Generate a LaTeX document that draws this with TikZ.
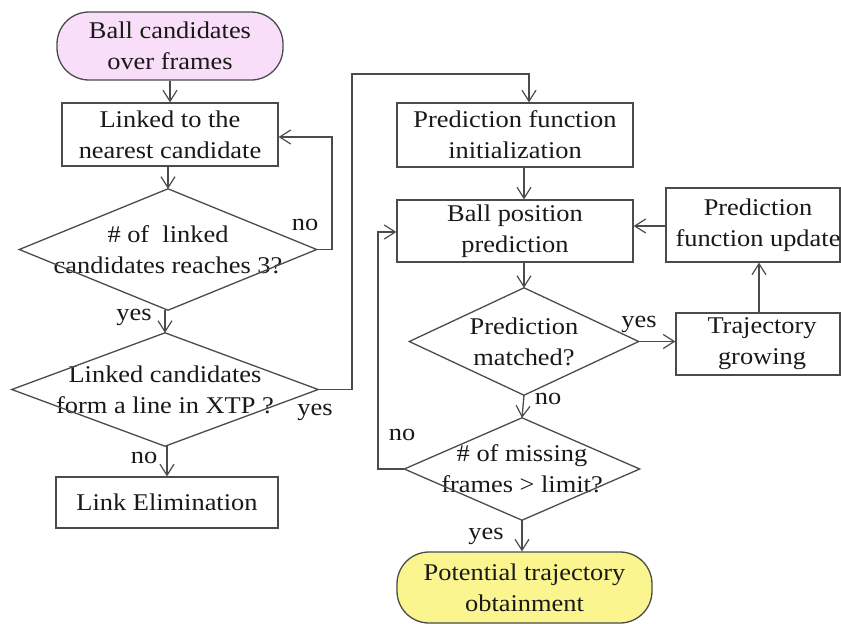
\documentclass[tikz,border=0pt]{standalone}
\usepackage{fontspec}
\setmainfont{Liberation Serif}[FakeStretch=1.1]
\usetikzlibrary{arrows.meta}
\definecolor{startpink}{RGB}{248,222,248}
\definecolor{endyellow}{RGB}{250,245,142}
\definecolor{linecol}{RGB}{75,75,75}
\definecolor{txtcol}{RGB}{25,25,25}
\tikzset{
  every node/.style={font=\fontsize{24}{31}\selectfont, text=txtcol},
  box/.style={draw=linecol, line width=1.3pt, rectangle, inner sep=0pt, align=center},
  term/.style={box, rounded corners=32pt},
  dtext/.style={rectangle, inner sep=0pt, align=center},
  dia/.style={draw=linecol, line width=1.3pt},
  conn/.style={draw=linecol, line width=1.3pt, -{Straight Barb[length=11pt,width=14pt,line width=1.2pt]}},
  lbl/.style={anchor=base, inner sep=0pt}
}
\begin{document}
\begin{tikzpicture}[x=1pt,y=-1pt]
\useasboundingbox (0,0) rectangle (841,624);
\fill[white] (0,0) rectangle (841,624);
\clip (0,0) rectangle (841,624);

% left column
\node[term, fill=startpink, minimum width=226pt, minimum height=68pt] (start) at (170,46) {Ball candidates\\over frames};
\node[box, minimum width=216pt, minimum height=63pt] (link) at (170,134.5) {Linked to the\\nearest candidate};
\node[dtext, minimum width=297pt, minimum height=121pt] (d1) at (168,249.5) {\#\ of\ \ linked\\candidates reaches 3?};
\draw[dia] (d1.north) -- (d1.east) -- (d1.south) -- (d1.west) -- cycle;
\node[dtext, minimum width=306pt, minimum height=113pt] (d2) at (165,389.5) {Linked candidates\\form a line in XTP ?};
\draw[dia] (d2.north) -- (d2.east) -- (d2.south) -- (d2.west) -- cycle;
\node[box, minimum width=222pt, minimum height=51pt] (elim) at (167,502.5) {Link Elimination};

% right column
\node[box, minimum width=236pt, minimum height=64pt] (pfi) at (515,135) {Prediction function\\initialization};
\node[box, minimum width=236pt, minimum height=62pt] (bpp) at (515,231) {Ball position\\prediction};
\node[dtext, minimum width=229pt, minimum height=107pt] (d3) at (524,341.5) {Prediction\\matched?};
\draw[dia] (d3.north) -- (d3.east) -- (d3.south) -- (d3.west) -- cycle;
\node[dtext, minimum width=235pt, minimum height=102pt] (d4) at (522,469) {\#\ of missing\\frames > limit?};
\draw[dia] (d4.north) -- (d4.east) -- (d4.south) -- (d4.west) -- cycle;
\node[term, fill=endyellow, minimum width=255pt, minimum height=71pt] (endt) at (524.5,587.5) {Potential trajectory\\obtainment};

% far right
\node[box, minimum width=174pt, minimum height=74pt] (pfu) at (753,225) {};
\node[dtext] (pfut) at (758,225) {Prediction\\function update};
\node[box, minimum width=164pt, minimum height=62pt] (traj) at (758,344) {};
\node[dtext] (trajt) at (762,344) {Trajectory\\growing};

% helper coordinates
\coordinate (c1) at (332,137);
\coordinate (c2) at (352,74);
\coordinate (c3) at (529,74);
\coordinate (c4) at (378,232);
\coordinate (c5) at (759,0);
\coordinate (c6) at (0,226);

% connectors
\draw[conn] (start.south) -- (link.north);
\draw[conn] (link.south -| d1.north) -- (d1.north);
\draw[conn] (d1.east) -| (c1) -- (c1 -| link.east);
\draw[conn] (d1.south -| d2.north) -- (d2.north);
\draw[conn] (d2.east) -| (c2) -- (c3) -- (c3 |- pfi.north);
\draw[conn] (d2.south -| elim.north) -- (elim.north);
\draw[conn] (pfi.south -| d3.north) -- (d3.north |- bpp.north);
\draw[conn] (bpp.south -| d3.north) -- (d3.north);
\draw[conn] (d3.east) -- (d3.east -| traj.west);
\draw[conn] (traj.north -| c5) -- (pfu.south -| c5);
\draw[conn] (pfu.west |- c6) -- (bpp.east |- c6);
\draw[conn] (d3.south) -- (d4.north);
\draw[conn] (d4.west) -| (c4) -- (c4 -| bpp.west);
\draw[conn] (d4.south) -- (d4.south |- endt.north);

% labels
\node[lbl] (l1) at (305,230) {no};
\node[lbl] (l2) at (134,320) {yes};
\node[lbl] (l3) at (315,415) {yes};
\node[lbl] (l4) at (144,463) {no};
\node[lbl] (l5) at (639,327) {yes};
\node[lbl] (l6) at (548,404) {no};
\node[lbl] (l7) at (402,440) {no};
\node[lbl] (l8) at (486,539) {yes};
\end{tikzpicture}
\end{document}
